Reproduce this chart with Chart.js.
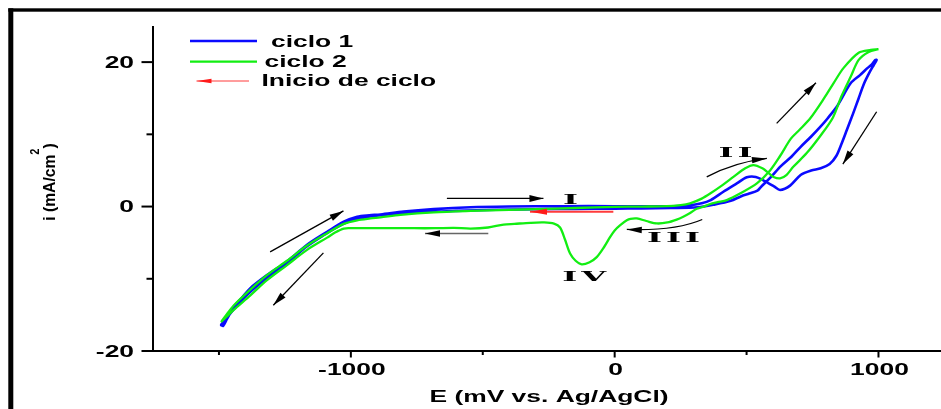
<!DOCTYPE html>
<html>
<head>
<meta charset="utf-8">
<script src="https://cdn.jsdelivr.net/npm/chart.js@4/dist/chart.umd.min.js"></script>
<style>
  html, body { margin: 0; padding: 0; background: #fff; overflow: hidden; }
  canvas { display: block; }
</style>
</head>
<body>
<canvas id="cv" width="941" height="409"></canvas>
<script>
// Cyclic voltammogram: potential E (mV vs. Ag/AgCl), current density i (mA/cm2)
// Each point is [E, i], listed in scan order.

// Cycle 1: from 0 mV towards -1500 mV, back up to +1000 mV, and back to 0 mV
const cycle1 = [
  [0,-0.3],[-150,-0.32],[-300,-0.38],[-450,-0.45],[-600,-0.6],[-750,-0.8],[-850,-1.05],[-920,-1.35],
  [-970,-1.7],[-1010,-2.1],[-1050,-2.8],[-1100,-3.9],[-1166,-5.5],[-1242,-7.8],[-1318,-9.9],
  [-1381,-11.8],[-1420,-13.2],[-1450,-14.5],[-1472,-15.5],[-1486,-16.1],[-1492,-16.4],
  [-1484,-16.5],[-1470,-15.6],[-1456,-14.7],[-1444,-13.9],[-1415,-12.7],[-1381,-11.3],[-1318,-9.5],
  [-1242,-7.6],[-1166,-5.3],[-1090,-3.5],[-1027,-2.1],[-976,-1.4],[-930,-1.2],[-888,-1.1],[-800,-0.7],
  [-686,-0.36],[-546,-0.1],[-400,0],[-200,0.05],[0,0.05],[120,0.05],[212,0.05],[280,0.15],[330,0.45],
  [364,0.9],[412,2.05],[463,3.2],[501,4.05],[535,4.1],[565,3.6],[604,2.8],[627,2.3],[665,2.9],
  [706,4.4],[745,5.0],[781,5.3],[815,5.9],[840,7.0],[860,8.7],[880,10.6],[903,12.8],[925,15.0],
  [945,17.0],[965,18.5],[982,19.6],[993,20.3],
  [988,20.3],[975,19.7],[959,19.2],[930,18.2],[895,17.1],[845,14.0],[807,12.2],[781,11.1],[745,9.7],
  [706,8.3],[670,6.9],[630,5.6],[590,4.0],[554,2.7],[541,2.2],[510,1.8],[478,1.4],[440,0.8],
  [380,0.3],[314,-0.1],[212,-0.2],[100,-0.25],[0,-0.3]
];

// Cycle 2: from +1000 mV down through peaks III and IV to -1500 mV, then back up to +1000 mV
const cycle2 = [
  [1000,21.8],[971,21.7],[925,21.3],[868,19.2],[830,17.1],[794,15.0],[743,12.3],[700,10.6],[668,9.4],
  [627,7.0],[589,5.0],[539,3.2],[475,1.8],[425,0.9],[390,0.6],[362,0.35],[330,-0.1],[311,-0.3],
  [286,-0.9],[260,-1.4],[235,-1.8],[200,-2.2],[160,-2.34],[120,-2.0],[84,-1.65],[60,-1.7],[46,-1.9],
  [20,-2.6],[0,-3.3],[-17,-4.2],[-40,-5.6],[-68,-7.0],[-95,-7.7],[-125,-8.0],[-148,-7.5],[-169,-6.5],
  [-188,-4.6],[-207,-2.9],[-230,-2.35],[-269,-2.2],[-320,-2.25],[-380,-2.4],[-421,-2.5],[-480,-2.9],
  [-546,-3.05],[-610,-2.95],[-680,-3.0],[-760,-3.0],[-850,-3.0],[-930,-3.0],[-1000,-3.0],[-1027,-3.05],
  [-1060,-3.6],[-1090,-4.3],[-1166,-6.0],[-1242,-8.1],[-1318,-10.2],[-1381,-12.3],[-1444,-14.3],
  [-1470,-15.2],[-1484,-15.7],[-1490,-15.9],
  [-1478,-15.3],[-1444,-13.7],[-1381,-11.5],[-1318,-9.5],[-1242,-7.5],[-1166,-5.4],[-1090,-3.7],
  [-1027,-2.4],[-976,-1.9],[-926,-1.65],[-888,-1.5],[-812,-1.15],[-686,-0.8],[-546,-0.6],[-400,-0.45],
  [-293,-0.36],[-150,-0.2],[0,-0.05],[100,0],[197,0.05],[250,0.2],[286,0.45],[330,1.1],[362,1.8],
  [410,3.0],[450,4.1],[495,5.3],[526,5.75],[560,5.3],[585,4.6],[602,4.1],[627,3.9],[652,4.4],
  [677,5.5],[728,7.4],[780,9.8],[827,12.3],[860,15.3],[895,18.0],[925,20.3],[963,21.4],[1000,21.8]
];

const seriesNames = ['ciclo 1', 'ciclo 2'];
const startLabel = 'Inicio de ciclo';
const xTitle = 'E (mV vs. Ag/AgCl)';
const yTitle = ['i (mA/cm', '2', ')'];

// Axis ticks
const xTicks = [-1500, -1000, -500, 0, 500, 1000];
const xLabelled = [-1000, 0, 1000];
const yTicks = [-20, -10, 0, 10, 20];
const yLabelled = [-20, 0, 20];

// Scan-direction arrows and peak labels, in (E, i) units
const scanArrows = [
  [[-636, 1.12], [-270, 1.12]],
  [[-1306, -6.28], [-1028, -0.6]],
  [[-1104, -6.42], [-1294, -13.67]],
  [[614, 11.52], [763, 17.14]],
  [[993, 13.13], [865, 5.88]]
];
const returnArrow = [[-479, -3.73], [-719, -3.73]];
const startArrow = [[-5, -0.73], [-321, -0.73]];
const curvedArrows = [
  [[349, 4.12], [456, 6.15], [577, 6.67]],
  [[332, -1.79], [229, -3.41], [46, -3.17]]
];
const peakLabels = [
  ['I', -167, 1.03],
  ['II', 458, 7.47],
  ['III', 223, -4.24],
  ['IV', -116, -9.65]
];

const SANS = "'Liberation Sans', Arial, sans-serif";
const SERIF = "'DejaVu Serif', 'Liberation Serif', serif";
const WIDE = 1.65;

function wideText(ctx, txt, x, baseY, align, font, sx) {
  ctx.save();
  ctx.font = font;
  ctx.textBaseline = 'alphabetic';
  ctx.textAlign = 'left';
  const w = ctx.measureText(txt).width * sx;
  const left = align === 'center' ? x - w / 2 : (align === 'right' ? x - w : x);
  ctx.translate(left, baseY);
  ctx.scale(sx, 1);
  ctx.fillText(txt, 0, 0);
  ctx.restore();
}

function arrowHead(ctx, x, y, ang, len, half) {
  const c = Math.cos(ang), s = Math.sin(ang);
  ctx.beginPath();
  ctx.moveTo(x, y);
  ctx.lineTo(x - len * c + half * s, y - len * s - half * c);
  ctx.lineTo(x - len * c - half * s, y - len * s + half * c);
  ctx.closePath();
  ctx.fill();
}

function toPx(chart, p) {
  return [chart.scales.x.getPixelForValue(p[0]), chart.scales.y.getPixelForValue(p[1])];
}

function lineArrow(ctx, a, b, lineColor, headColor, lw, len, half) {
  ctx.save();
  ctx.strokeStyle = lineColor;
  ctx.lineWidth = lw;
  ctx.beginPath();
  ctx.moveTo(a[0], a[1]);
  ctx.lineTo(b[0], b[1]);
  ctx.stroke();
  ctx.fillStyle = headColor;
  arrowHead(ctx, b[0], b[1], Math.atan2(b[1] - a[1], b[0] - a[0]), len, half);
  ctx.restore();
}

// Roman numeral peak labels: heavy serif face, drawn wide
function romanLabel(ctx, txt, cx, cy) {
  ctx.save();
  ctx.font = 'bold 12px ' + SERIF;
  ctx.fillStyle = '#000';
  const sx = 15 / ctx.measureText('I').width;
  const gap = 4;
  const chars = txt.split('');
  const widths = chars.map(ch => ctx.measureText(ch).width * sx);
  const total = widths.reduce((a, b) => a + b, 0) + gap * (chars.length - 1);
  let x = cx - total / 2;
  chars.forEach((ch, k) => {
    ctx.save();
    ctx.translate(x, cy + 4.4);
    ctx.scale(sx, 1);
    ctx.fillText(ch, 0, 0);
    ctx.restore();
    x += widths[k] + gap;
  });
  ctx.restore();
}

const decor = {
  id: 'decor',
  afterDatasetsDraw(chart) {
    const ctx = chart.ctx;
    scanArrows.forEach(([a, b]) => lineArrow(ctx, toPx(chart, a), toPx(chart, b), '#000', '#000', 1.3, 14, 3.5));
    lineArrow(ctx, toPx(chart, returnArrow[0]), toPx(chart, returnArrow[1]), '#666', '#000', 1.6, 15, 3.2);
    lineArrow(ctx, toPx(chart, startArrow[0]), toPx(chart, startArrow[1]), '#ff3b3b', '#ff1a1a', 2, 17, 3);
    curvedArrows.forEach(([a, c, b]) => {
      const pa = toPx(chart, a), pc = toPx(chart, c), pb = toPx(chart, b);
      ctx.save();
      ctx.strokeStyle = '#000';
      ctx.lineWidth = 1.3;
      ctx.beginPath();
      ctx.moveTo(pa[0], pa[1]);
      ctx.quadraticCurveTo(pc[0], pc[1], pb[0], pb[1]);
      ctx.stroke();
      ctx.fillStyle = '#000';
      arrowHead(ctx, pb[0], pb[1], Math.atan2(pb[1] - pc[1], pb[0] - pc[0]), 15, 3.2);
      ctx.restore();
    });
    peakLabels.forEach(([t, e, i]) => {
      const p = toPx(chart, [e, i]);
      romanLabel(ctx, t, p[0], p[1]);
    });
  },
  afterDraw(chart) {
    const ctx = chart.ctx;
    const area = chart.chartArea;
    const xs = chart.scales.x, ys = chart.scales.y;
    ctx.save();
    ctx.fillStyle = '#000';
    ctx.strokeStyle = '#000';

    // outer frame (left and top edges)
    ctx.fillRect(8.3, 8.3, 5, 409);
    ctx.fillRect(8.3, 8.3, 941, 3.4);

    // axis lines
    ctx.lineWidth = 2;
    ctx.beginPath();
    ctx.moveTo(area.left, area.top);
    ctx.lineTo(area.left, area.bottom);
    ctx.moveTo(area.left, area.bottom);
    ctx.lineTo(chart.width, area.bottom);
    ctx.stroke();

    // y ticks and labels
    yTicks.forEach(v => {
      const y = ys.getPixelForValue(v);
      const major = yLabelled.includes(v);
      ctx.beginPath();
      ctx.moveTo(area.left - (major ? 11.5 : 6.5), y);
      ctx.lineTo(area.left, y);
      ctx.stroke();
      if (major) wideText(ctx, String(v), area.left - 19, y + 5.7, 'right', 'bold 16px ' + SANS, WIDE);
    });

    // x ticks and labels
    xTicks.forEach(v => {
      const x = xs.getPixelForValue(v);
      const major = xLabelled.includes(v);
      ctx.beginPath();
      ctx.moveTo(x, area.bottom);
      ctx.lineTo(x, area.bottom + (major ? 6.5 : 4));
      ctx.stroke();
      if (major) wideText(ctx, String(v), x + 1, area.bottom + 23.5, 'center', 'bold 16px ' + SANS, WIDE);
    });

    // axis titles
    wideText(ctx, xTitle, (area.left + area.right) / 2 + 2, 401.5, 'center', 'bold 16px ' + SANS, WIDE);

    ctx.save();
    ctx.translate(50, 182);
    ctx.rotate(-Math.PI / 2);
    ctx.scale(0.92, 1);
    const mainFont = 'bold 17px ' + SANS, supFont = 'bold 12px ' + SANS;
    ctx.font = mainFont;
    const w0 = ctx.measureText(yTitle[0]).width;
    const w2 = ctx.measureText(yTitle[2]).width;
    ctx.font = supFont;
    const w1 = ctx.measureText(yTitle[1]).width;
    let tx = -(w0 + w1 + w2) / 2;
    ctx.textBaseline = 'alphabetic';
    ctx.font = mainFont;
    ctx.fillText(yTitle[0], tx, 5);
    tx += w0;
    ctx.font = supFont;
    ctx.fillText(yTitle[1], tx, -11);
    tx += w1;
    ctx.font = mainFont;
    ctx.fillText(yTitle[2], tx, 5);
    ctx.restore();

    // legend
    const ds = chart.data.datasets;
    const rows = [
      { y: 41, color: ds[1].borderColor, lw: ds[1].borderWidth, text: seriesNames[0], tx: 271, ty: 47 },
      { y: 61.7, color: ds[0].borderColor, lw: ds[0].borderWidth, text: seriesNames[1], tx: 264.5, ty: 66.8 }
    ];
    rows.forEach(r => {
      ctx.strokeStyle = r.color;
      ctx.lineWidth = r.lw;
      ctx.beginPath();
      ctx.moveTo(190, r.y);
      ctx.lineTo(257, r.y);
      ctx.stroke();
      ctx.fillStyle = '#000';
      wideText(ctx, r.text, r.tx, r.ty, 'left', 'bold 16px ' + SANS, WIDE);
    });
    lineArrow(ctx, [249, 81], [196.5, 81], '#ff3b3b', '#ff1a1a', 1, 15, 2.2);
    ctx.fillStyle = '#000';
    wideText(ctx, startLabel, 261.5, 85.5, 'left', 'bold 16px ' + SANS, WIDE);

    ctx.restore();
  }
};

const toPoints = arr => arr.map(([x, y]) => ({ x, y }));

new Chart(document.getElementById('cv'), {
  type: 'scatter',
  data: {
    datasets: [
      {
        label: seriesNames[1],
        data: toPoints(cycle2),
        showLine: true,
        borderColor: '#12ee12',
        borderWidth: 2.3,
        pointRadius: 0,
        tension: 0.3,
        fill: false,
        order: 0
      },
      {
        label: seriesNames[0],
        data: toPoints(cycle1),
        showLine: true,
        borderColor: '#0a0aff',
        borderWidth: 2.6,
        pointRadius: 0,
        tension: 0.3,
        fill: false,
        order: 1
      }
    ]
  },
  options: {
    responsive: false,
    animation: false,
    devicePixelRatio: 1,
    layout: { padding: { left: 153, top: 26, right: 0, bottom: 58 } },
    scales: {
      x: { type: 'linear', min: -1750, max: 1237, display: false },
      y: { type: 'linear', min: -20, max: 25, display: false }
    },
    plugins: { legend: { display: false }, tooltip: { enabled: false } }
  },
  plugins: [decor]
});
</script>
</body>
</html>
